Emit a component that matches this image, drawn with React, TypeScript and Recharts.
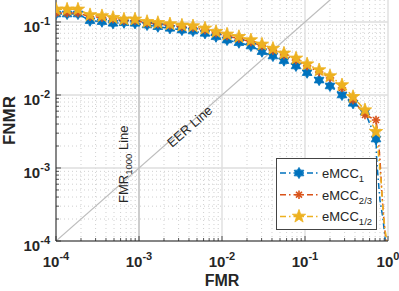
import React from 'react';
import { ComposedChart, Line, XAxis, YAxis, CartesianGrid, ReferenceDot } from 'recharts';

// ---------- data ----------
const markerFMR = [1e-4, 1.36e-4, 1.84e-4, 2.57e-4, 3.58e-4, 4.86e-4, 6.59e-4, 8.95e-4, 1.25e-3, 1.69e-3, 2.36e-3, 3.29e-3, 4.47e-3, 6.24e-3, 8.47e-3, 0.0115, 0.016, 0.0223, 0.0303, 0.0411, 0.0558, 0.0779, 0.106, 0.148, 0.2, 0.279, 0.379, 0.528, 0.717];

const eMCC1 = [0.1286, 0.1286, 0.1286, 0.104, 0.1009, 0.0959, 0.0977, 0.0959, 0.091, 0.0862, 0.0819, 0.0776, 0.0752, 0.0699, 0.0628, 0.0566, 0.052, 0.0469, 0.0392, 0.0342, 0.0295, 0.025, 0.0202, 0.016, 0.0133, 0.01, 0.00769, 0.00585, 0.00249];
const eMCC23 = [0.1327, 0.1327, 0.1327, 0.118, 0.1151, 0.1099, 0.1047, 0.1047, 0.0968, 0.0938, 0.0895, 0.0854, 0.0841, 0.0776, 0.0706, 0.0642, 0.0594, 0.0532, 0.0469, 0.0407, 0.0353, 0.0301, 0.025, 0.0206, 0.0171, 0.0125, 0.00853, 0.00532, 0.00454];
const eMCC12 = [0.149, 0.149, 0.149, 0.125, 0.121, 0.1146, 0.1089, 0.1089, 0.1009, 0.0977, 0.0938, 0.09, 0.0881, 0.0819, 0.0736, 0.0678, 0.0628, 0.0566, 0.0494, 0.0433, 0.0372, 0.0318, 0.0265, 0.022, 0.0182, 0.0137, 0.00946, 0.00622, 0.00314];

const tail1FMR = [0.731, 0.764, 0.801, 0.863, 0.92, 0.93];
const tail1FNMR = [0.00129, 0.00068, 0.00036, 0.000215, 0.000113, 0.0001];
const tail23FMR = [0.759, 0.801, 0.847, 0.896, 0.946];
const tail23FNMR = [0.00283, 0.00129, 0.000427, 0.000182, 0.0001];
const tail12FMR = [0.759, 0.824, 0.871, 0.921, 0.973];
const tail12FNMR = [0.00176, 0.00068, 0.000265, 0.000141, 0.0001];

const seriesNames = ['eMCC', 'eMCC', 'eMCC'];
const seriesSubs = ['1', '2/3', '1/2'];
const seriesColors = ['#0072BD', '#D95319', '#EDB120'];

const xMajorTicks = [1e-4, 1e-3, 1e-2, 1e-1, 1];
const xTickExps = ['-4', '-3', '-2', '-1', '0'];
const yMajorTicks = [1e-4, 1e-3, 1e-2, 1e-1];
const yTickExps = ['-4', '-3', '-2', '-1'];
const minorMultipliers = [2, 3, 4, 5, 6, 7, 8, 9];
const xDecades = [-4, -3, -2, -1];
const yDecades = [-4, -3, -2];

const eerLine = [{ x: 1e-4, y: 1e-4 }, { x: 0.2, y: 0.2 }];
const fmr1000Line = [{ x: 1e-3, y: 1e-4 }, { x: 1e-3, y: 0.2 }];

// ---------- derived ----------
const xMinor = xDecades.flatMap((d) => minorMultipliers.map((k) => k * Math.pow(10, d)));
const yMinor = yDecades.flatMap((d) => minorMultipliers.map((k) => k * Math.pow(10, d)));

const build = (ys: number[], tx: number[], ty: number[]) => [
  ...markerFMR.map((x, i) => ({ x, y: ys[i] })),
  ...tx.map((x, i) => ({ x, y: ty[i] })),
];
const data1 = build(eMCC1, tail1FMR, tail1FNMR);
const data23 = build(eMCC23, tail23FMR, tail23FNMR);
const data12 = build(eMCC12, tail12FMR, tail12FNMR);
const markerCount = markerFMR.length;

const FONT = '"Liberation Sans", Arial, Helvetica, sans-serif';
const AXIS = '#262626';
const DASH = '6 3 1.5 3';

const starPoints = (cx: number, cy: number, n: number, R: number, r: number) => {
  const pts: string[] = [];
  for (let i = 0; i < 2 * n; i++) {
    const a = -Math.PI / 2 + (i * Math.PI) / n;
    const rad = i % 2 === 0 ? R : r;
    pts.push(`${(cx + rad * Math.cos(a)).toFixed(2)},${(cy + rad * Math.sin(a)).toFixed(2)}`);
  }
  return pts.join(' ');
};

const Hexagram = ({ cx, cy, color }: any) => (
  <polygon points={starPoints(cx, cy, 6, 5.6, 3.3)} fill={color} stroke={color} strokeWidth={0.8} />
);
const Pentagram = ({ cx, cy, color }: any) => (
  <polygon points={starPoints(cx, cy, 5, 7, 2.8)} fill={color} stroke={color} strokeWidth={0.8} />
);
const Asterisk = ({ cx, cy, color }: any) => {
  const R = 4.2;
  const d = R * Math.SQRT1_2;
  return (
    <g stroke={color} strokeWidth={1.6}>
      <line x1={cx - R} y1={cy} x2={cx + R} y2={cy} />
      <line x1={cx} y1={cy - R} x2={cx} y2={cy + R} />
      <line x1={cx - d} y1={cy - d} x2={cx + d} y2={cy + d} />
      <line x1={cx - d} y1={cy + d} x2={cx + d} y2={cy - d} />
    </g>
  );
};
const markers = [Hexagram, Asterisk, Pentagram];

const makeDot = (si: number) => (p: any) => {
  const M = markers[si];
  if (p.index >= markerCount || p.cx == null || p.cy == null) return <g key={`d${si}-${p.index}`} />;
  return (
    <g key={`d${si}-${p.index}`}>
      <M cx={p.cx} cy={p.cy} color={seriesColors[si]} />
    </g>
  );
};

const near = (a: number, b: number) => Math.abs(Math.log10(a) - Math.log10(b)) < 1e-6;

const XTick = (props: any) => {
  const { x, y, payload } = props;
  const v = payload.value;
  const mi = xMajorTicks.findIndex((t) => near(t, v));
  const major = mi >= 0;
  return (
    <g>
      <line x1={x} x2={x} y1={y} y2={y - (major ? 5 : 3)} stroke={AXIS} strokeWidth={0.8} />
      {major && (
        <text x={x} y={y + 26} textAnchor="middle" fontFamily={FONT} fontWeight="bold" fontSize={15} fill={AXIS}>
          <tspan>10</tspan>
          <tspan dy={-7} fontSize={11}>{xTickExps[mi]}</tspan>
        </text>
      )}
    </g>
  );
};

const YTick = (props: any) => {
  const { x, y, payload } = props;
  const v = payload.value;
  const mi = yMajorTicks.findIndex((t) => near(t, v));
  const major = mi >= 0;
  return (
    <g>
      <line x1={x} x2={x + (major ? 5 : 3)} y1={y} y2={y} stroke={AXIS} strokeWidth={0.8} />
      {major && (
        <text x={x - 6} y={y + 10} textAnchor="end" fontFamily={FONT} fontWeight="bold" fontSize={15} fill={AXIS}>
          <tspan>10</tspan>
          <tspan dy={-7} fontSize={11}>{yTickExps[mi]}</tspan>
        </text>
      )}
    </g>
  );
};

const FmrLabel = (props: any) => {
  const vb = props.viewBox;
  const cx = vb.x + vb.width / 2;
  const cy = vb.y + vb.height / 2;
  return (
    <text transform={`translate(${cx - 5},${cy + 41}) rotate(-90)`} fontFamily={FONT} fontSize={13} fill="#262626">
      <tspan>FMR</tspan>
      <tspan dy={4} fontSize={9.5}>1000</tspan>
      <tspan dy={-4}> Line</tspan>
    </text>
  );
};

const EerLabel = (props: any) => {
  const vb = props.viewBox;
  const cx = vb.x + vb.width / 2;
  const cy = vb.y + vb.height / 2;
  return (
    <text transform={`translate(${cx},${cy}) rotate(-41.3)`} fontFamily={FONT} fontSize={13} fill="#262626">
      EER Line
    </text>
  );
};

const LegendBox = () => (
  <div style={{ position: 'absolute', left: 276, top: 158, width: 102, height: 73 }}>
    <svg width={102} height={73}>
      <rect x={0.5} y={0.5} width={100} height={71} fill="#ffffff" stroke="#444" strokeWidth={1} />
      {seriesNames.map((name, i) => {
        const ly = 15 + i * 21.7;
        const M = markers[i];
        return (
          <g key={i}>
            <line x1={4} x2={42} y1={ly} y2={ly} stroke={seriesColors[i]} strokeWidth={1.5} strokeDasharray={DASH} />
            <M cx={23} cy={ly} color={seriesColors[i]} />
            <text x={46} y={ly + 5} fontFamily={FONT} fontSize={13} fill="#262626">
              <tspan>{name}</tspan>
              <tspan dy={4} fontSize={9.5}>{seriesSubs[i]}</tspan>
            </text>
          </g>
        );
      })}
    </svg>
  </div>
);

export default function App() {
  return (
    <div style={{ position: 'absolute', left: 0, top: 0, width: 399, height: 291, background: '#fff' }}>
      <ComposedChart width={399} height={291} margin={{ top: 0, right: 11, left: 0, bottom: 0 }}>
        <CartesianGrid
          verticalValues={xMinor}
          horizontalValues={yMinor}
          stroke="#c4c4c4"
          strokeDasharray="1 3"
          strokeWidth={0.8}
        />
        <CartesianGrid
          verticalValues={xMajorTicks}
          horizontalValues={yMajorTicks}
          stroke="#dedede"
          strokeWidth={1.4}
        />
        <XAxis
          dataKey="x"
          type="number"
          scale="log"
          domain={[1e-4, 1]}
          allowDataOverflow
          ticks={[...xMajorTicks, ...xMinor]}
          interval={0}
          height={50}
          tickSize={0}
          tickMargin={0}
          tickLine={false}
          tick={<XTick />}
          axisLine={{ stroke: AXIS, strokeWidth: 1 }}
          label={{
            content: (p: any) => (
              <text
                x={p.viewBox.x + p.viewBox.width / 2}
                y={p.viewBox.y + 45}
                textAnchor="middle"
                fontFamily={FONT}
                fontWeight="bold"
                fontSize={16}
                fill={AXIS}
              >
                FMR
              </text>
            ),
          }}
        />
        <YAxis
          type="number"
          scale="log"
          domain={[1e-4, 0.2]}
          allowDataOverflow
          ticks={[...yMajorTicks, ...yMinor]}
          interval={0}
          width={56}
          tickSize={0}
          tickMargin={0}
          tickLine={false}
          tick={<YTick />}
          axisLine={{ stroke: AXIS, strokeWidth: 1 }}
          label={{
            content: (p: any) => (
              <text
                transform={`translate(${p.viewBox.x + 15},${p.viewBox.y + p.viewBox.height / 2}) rotate(-90)`}
                textAnchor="middle"
                fontFamily={FONT}
                fontWeight="bold"
                fontSize={17}
                fill={AXIS}
              >
                FNMR
              </text>
            ),
          }}
        />
        <Line data={fmr1000Line} dataKey="y" stroke="#c6c6c6" strokeWidth={1.6} dot={false} isAnimationActive={false} />
        <Line data={eerLine} dataKey="y" stroke="#bdbdbd" strokeWidth={1.2} dot={false} isAnimationActive={false} />
        <Line data={data1} dataKey="y" stroke={seriesColors[0]} strokeWidth={1.5} strokeDasharray={DASH} dot={makeDot(0)} isAnimationActive={false} />
        <Line data={data23} dataKey="y" stroke={seriesColors[1]} strokeWidth={1.5} strokeDasharray={DASH} dot={makeDot(1)} isAnimationActive={false} />
        <Line data={data12} dataKey="y" stroke={seriesColors[2]} strokeWidth={1.5} strokeDasharray={DASH} dot={makeDot(2)} isAnimationActive={false} />
        <ReferenceDot x={8.5e-4} y={1.21e-3} r={1} fill="none" stroke="none" label={{ content: FmrLabel }} />
        <ReferenceDot x={2.5e-3} y={1.88e-3} r={1} fill="none" stroke="none" label={{ content: EerLabel }} />
      </ComposedChart>
      <LegendBox />
    </div>
  );
}
